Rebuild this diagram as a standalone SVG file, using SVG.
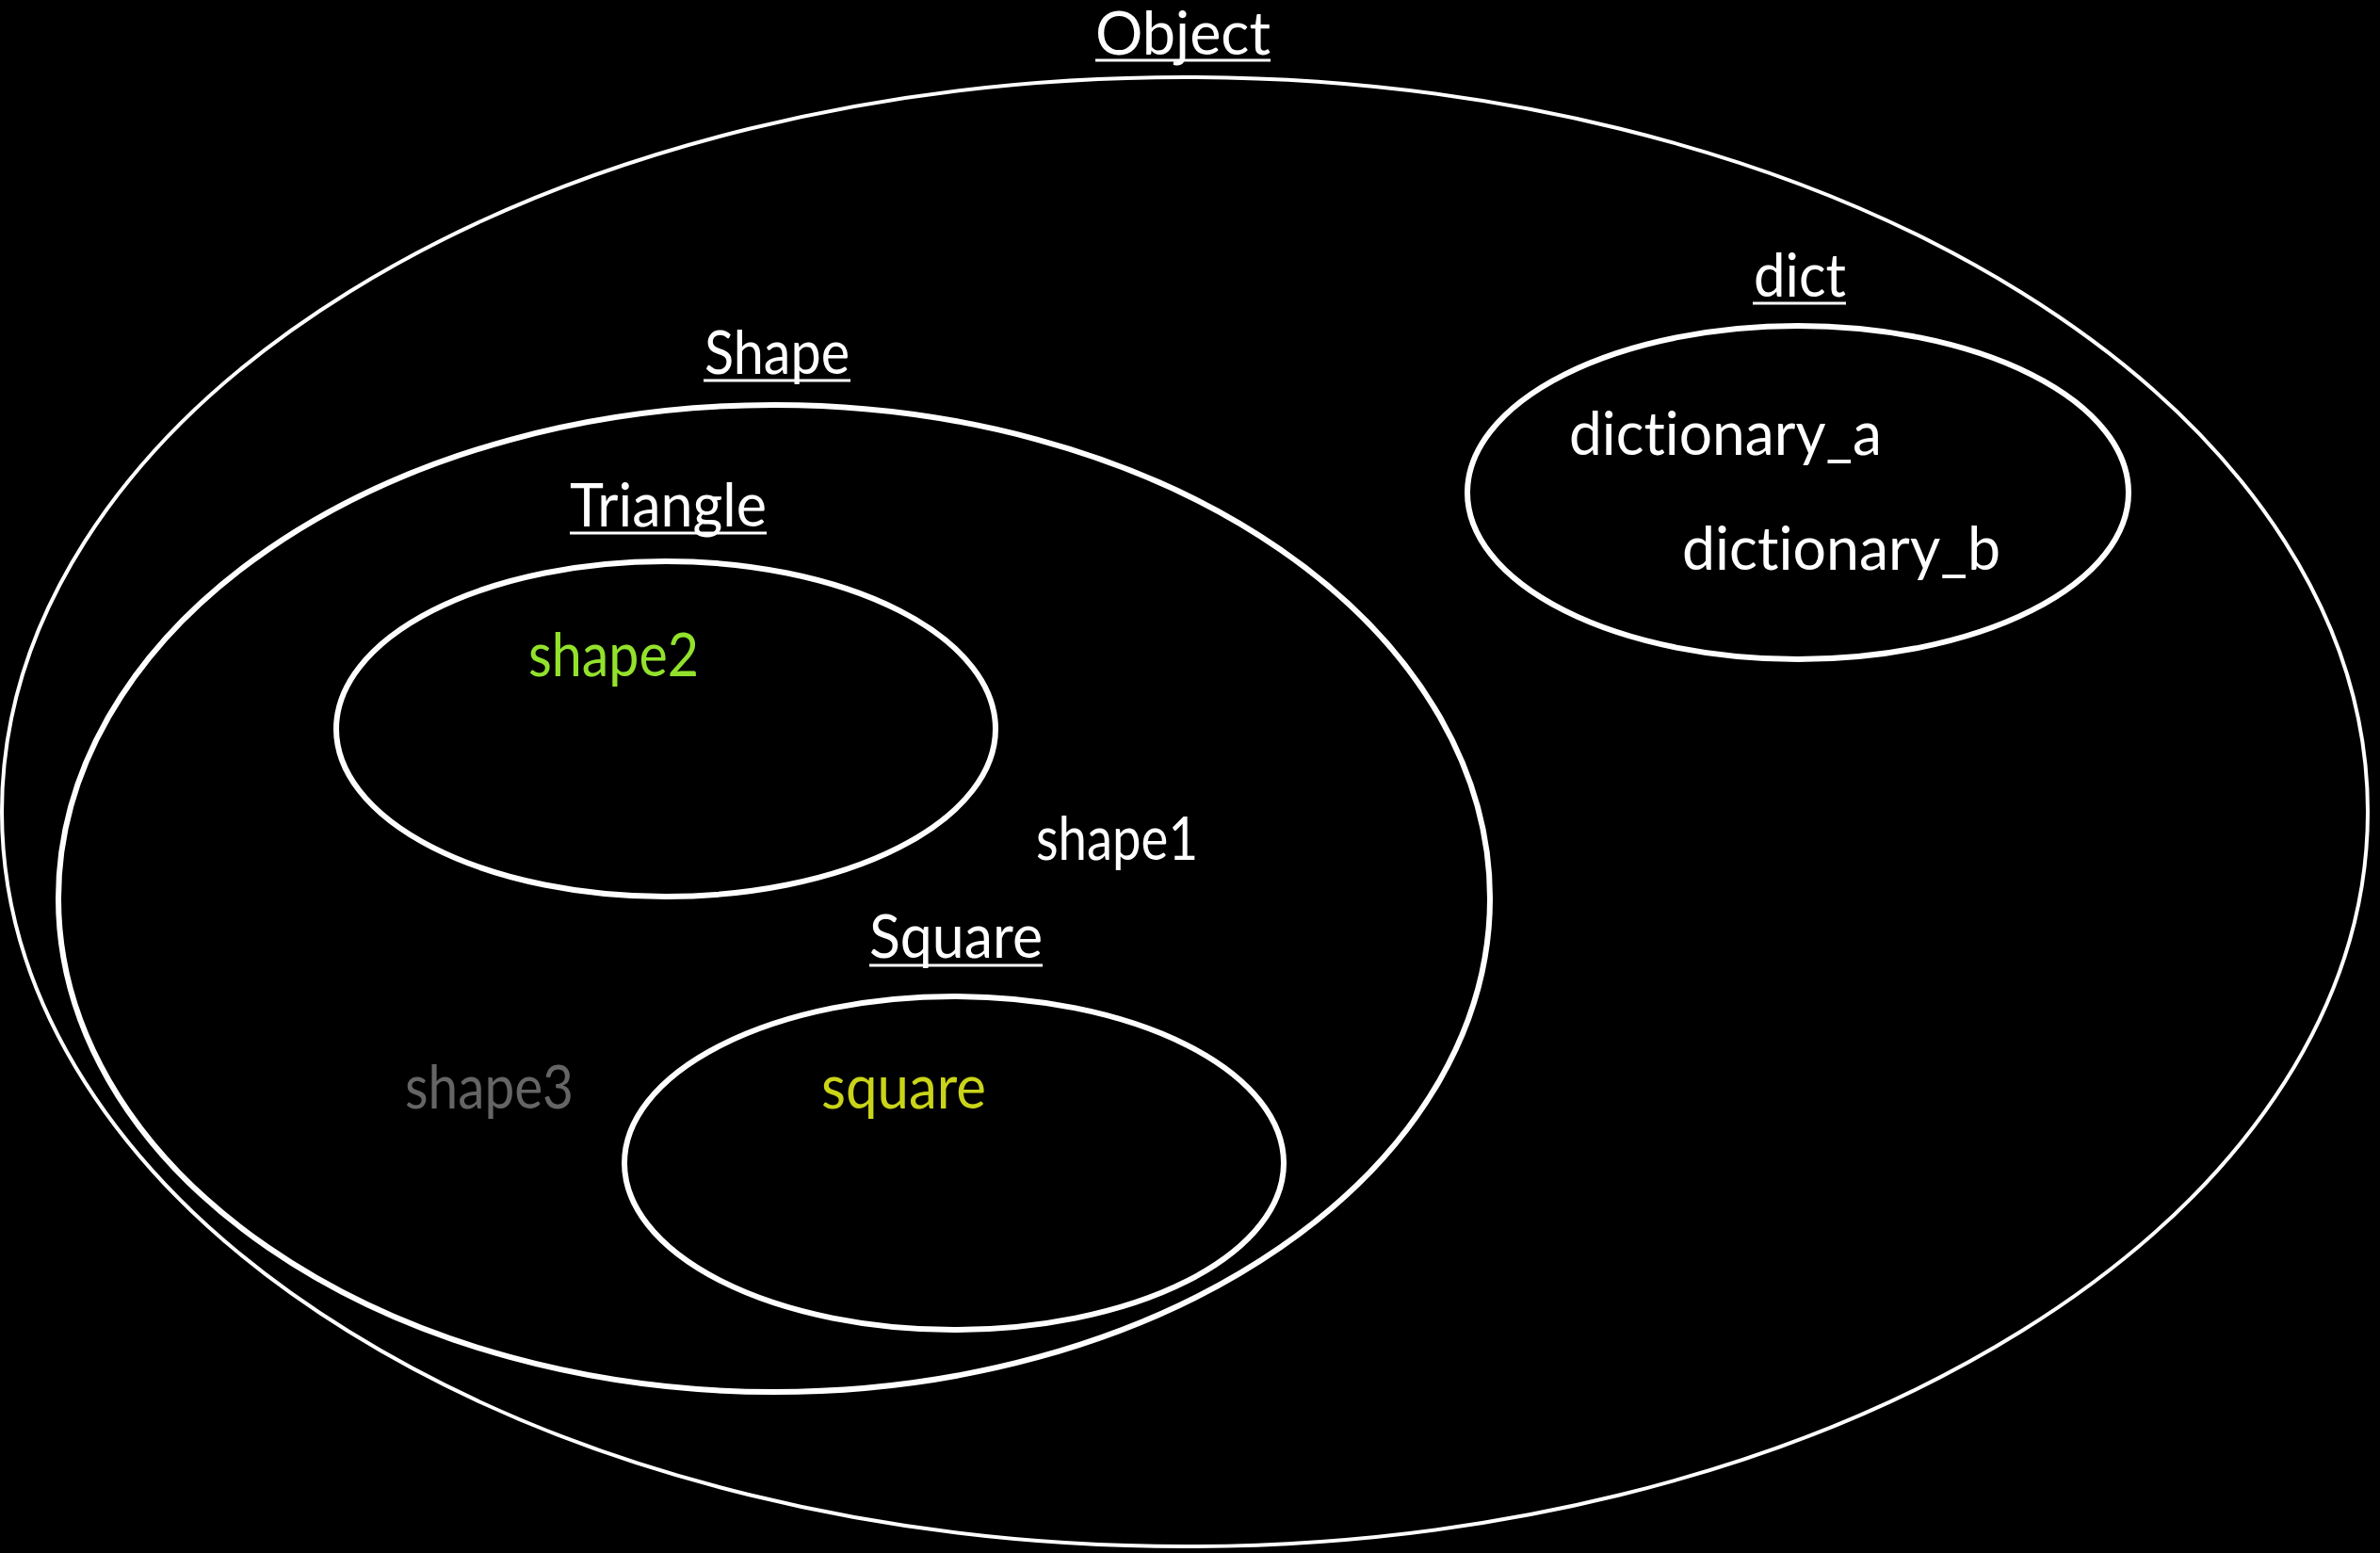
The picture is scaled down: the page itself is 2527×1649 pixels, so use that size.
<svg xmlns="http://www.w3.org/2000/svg" width="2527" height="1649" viewBox="0 0 2527 1649">
<style>
.set{fill:none;stroke:#fff}
.outer{stroke-width:4}
.inner{stroke-width:6}
text{font-family:Lato,"Open Sans","Liberation Sans",sans-serif;font-size:63px;fill:#fff;font-variant-ligatures:none;font-feature-settings:"liga" 0,"clig" 0}
.ul{stroke:#fff;stroke-width:3}
.green{fill:#92e22c}
.olive{fill:#c9d418}
.gray{fill:#656565}
</style>
<rect x="0" y="0" width="2527" height="1649" fill="#000"/>
<g id="object">
<ellipse class="set outer" cx="1258" cy="862" rx="1256" ry="780"/>
<text x="1163" y="58" textLength="186" lengthAdjust="spacingAndGlyphs">Object</text>
<line class="ul" x1="1163" y1="64" x2="1349" y2="64"/>
</g>
<g id="shape">
<ellipse class="set inner" cx="822" cy="954" rx="760" ry="524"/>
<text x="748" y="397" textLength="154" lengthAdjust="spacingAndGlyphs">Shape</text>
<line class="ul" x1="747" y1="404" x2="903" y2="404"/>
</g>
<g id="triangle">
<ellipse class="set inner" cx="707" cy="774" rx="350" ry="178"/>
<text x="605" y="559" textLength="209" lengthAdjust="spacingAndGlyphs">Triangle</text>
<line class="ul" x1="605" y1="566" x2="814" y2="566"/>
</g>
<g id="square-set">
<ellipse class="set inner" cx="1013" cy="1235" rx="350" ry="177"/>
<text x="923" y="1017" textLength="184" lengthAdjust="spacingAndGlyphs">Square</text>
<line class="ul" x1="923" y1="1025" x2="1107" y2="1025"/>
</g>
<g id="dict">
<ellipse class="set inner" cx="1909" cy="523" rx="351" ry="177"/>
<text x="1862" y="315" textLength="98" lengthAdjust="spacingAndGlyphs">dict</text>
<line class="ul" x1="1861" y1="322" x2="1960" y2="322"/>
</g>
<g id="instances">
<text id="shape2" class="green" x="561" y="718" textLength="181" lengthAdjust="spacingAndGlyphs">shape2</text>
<text id="shape1" x="1100" y="913" textLength="172" lengthAdjust="spacingAndGlyphs">shape1</text>
<text id="shape3" class="gray" x="430" y="1177" textLength="179" lengthAdjust="spacingAndGlyphs">shape3</text>
<text id="square" class="olive" x="872" y="1177" textLength="175" lengthAdjust="spacingAndGlyphs">square</text>
<text id="dictionary_a" x="1666" y="483" textLength="332" lengthAdjust="spacingAndGlyphs">dictionary_a</text>
<text id="dictionary_b" x="1786" y="605" textLength="338" lengthAdjust="spacingAndGlyphs">dictionary_b</text>
</g>
<g id="connectors"/>
</svg>
